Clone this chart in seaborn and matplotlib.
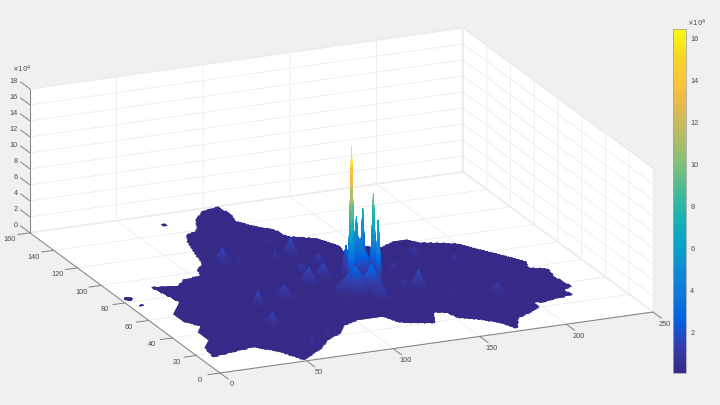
import numpy as np
import matplotlib
matplotlib.use("Agg")
import matplotlib.pyplot as plt
import matplotlib.tri as mtri
from matplotlib.path import Path
from matplotlib.ticker import NullFormatter
from mpl_toolkits.mplot3d import proj3d
import seaborn as sns

# outline of the region (x, y)
outline_x = [23, 36, 44, 54, 57, 63, 66, 70, 75, 80, 85, 89, 98, 108, 109, 107, 113, 120, 122, 135,
             141, 139, 151, 161, 170, 178, 183, 193, 200, 206, 213, 221, 218, 227, 225, 227, 221, 222,
             213, 203, 198, 198, 190, 180, 173, 169, 161, 151, 150, 143, 137, 130, 120, 116, 101, 90,
             85, 74, 64, 49, 43, 33, 25, 7, 9, 16, 16, 21, 16, 16, 27]
outline_y = [91, 88, 94, 95, 102, 106, 117, 129, 137, 138, 143, 150, 157, 159, 150, 143, 135, 130, 121, 115,
             105, 99, 102, 98, 102, 102, 97, 94, 91, 83, 75, 65, 59, 55, 47, 35, 33, 27,
             26, 24, 25, 20, 16, 12, 2, 10, 16, 21, 27, 29, 19, 21, 24, 32, 32, 28,
             22, 17, 9, 1, 12, 20, 19, 16, 26, 33, 41, 47, 54, 62, 73]

# small detached patches
island_x = [4, 6, 70]
island_y = [83, 75, 149]
island_r = [1.6, 0.7, 1.0]

# peaks, heights in units of 1e4
peak_x = [126, 140, 140, 138, 135, 131, 129, 132, 120, 128, 74, 112, 101, 102, 113, 120, 106, 81, 63, 57, 62, 77,
          112, 127, 153, 146, 152, 172, 108, 82, 107, 63, 186, 187, 164]
peak_y = [73, 75, 84, 68, 82, 77, 82, 75, 61, 59, 106, 104, 101, 74, 78, 92, 86, 64, 60, 39, 13, 22,
          60, 50, 56, 58, 75, 87, 116, 104, 48, 77, 74, 39, 42]
peak_h = [16.4, 9.9, 7.0, 7.4, 6.4, 5.5, 3.0, 4.5, 3.0, 3.2, 1.8, 2.1, 1.2, 1.9, 1.7, 1.2, 1.0, 1.5, 1.8, 1.6, 1.1, 0.9,
          1.5, 1.5, 2.1, 0.9, 0.9, 0.9, 0.7, 0.7, 0.6, 0.6, 1.0, 1.3, 0.6]
peak_r = [2.0, 1.9, 1.8, 1.9, 2.4, 4, 3, 11, 11, 9, 5, 5, 3, 6, 6, 5, 5, 6, 4, 5, 3, 3,
          6, 6, 5, 5, 4, 6, 4, 3, 3, 3, 3, 5, 3]

x_ticks = [0, 50, 100, 150, 200, 250]
y_ticks = [0, 20, 40, 60, 80, 100, 120, 140, 160]
z_ticks = [0, 2, 4, 6, 8, 10, 12, 14, 16, 18]
cbar_ticks = [2, 4, 6, 8, 10, 12, 14, 16]
z_floor = 0.05
z_top = 16.48

# parula, every few rows of the table
parula = [(0.2081, 0.1663, 0.5292), (0.2081, 0.2386, 0.6771), (0.0117, 0.3875, 0.8820), (0.0629, 0.4737, 0.8554),
          (0.0641, 0.5570, 0.8240), (0.0228, 0.6535, 0.7768), (0.1133, 0.7015, 0.6859), (0.3022, 0.7376, 0.5712),
          (0.5300, 0.7491, 0.4661), (0.7184, 0.7411, 0.3905), (0.8824, 0.7274, 0.3217), (0.9990, 0.7653, 0.2164),
          (0.9697, 0.8481, 0.1475), (0.9763, 0.9831, 0.0538)]

BG = "#f0f0f0"
AXIS = "#808080"
TEXT = "#4d4d4d"

sns.set_theme(style="white", rc={"grid.color": "#ececec", "grid.linewidth": 0.6,
                                 "font.family": ["Liberation Sans", "DejaVu Sans"]})
cmap = sns.blend_palette(parula, as_cmap=True)

# surface grid, finer around the tall spikes so the colour runs smoothly up them
xs = np.unique(np.r_[np.arange(1, 251, 1.0), np.arange(122, 144, 0.2)])
ys = np.unique(np.r_[np.arange(1, 161, 1.0), np.arange(62, 90, 0.2)])
X, Y = np.meshgrid(xs, ys)

Z = np.full(X.shape, z_floor)
for px_, py_, h, r in zip(peak_x, peak_y, peak_h, peak_r):
    d = np.hypot(X - px_, Y - py_)
    Z = np.maximum(Z, z_floor + h * np.clip(1 - d / r, 0, None) ** 1.5)

# keep only the cells inside the outline
cx = (X[:-1, :-1] + X[1:, 1:]) / 2
cy = (Y[:-1, :-1] + Y[1:, 1:]) / 2
region = Path(np.column_stack([outline_x, outline_y]))
inside = region.contains_points(np.column_stack([cx.ravel(), cy.ravel()])).reshape(cx.shape)
for ix, iy, ir in zip(island_x, island_y, island_r):
    inside |= np.hypot(cx - ix, cy - iy) <= ir

rows, cols = np.nonzero(inside)
n = X.shape[1]
a = rows * n + cols
b = a + 1
c = a + n
d = c + 1
triangles = np.r_[np.column_stack([a, b, d]), np.column_stack([a, d, c])]
tri = mtri.Triangulation(X.ravel(), Y.ravel(), triangles)

fig = plt.figure(figsize=(7.2, 4.05), dpi=100, facecolor=BG)
ax = fig.add_axes([0, 0, 1, 1], projection="3d", proj_type="ortho", facecolor="none")
ax.computed_zorder = False

surf = ax.plot_trisurf(tri, Z.ravel(), cmap=cmap, vmin=z_floor, vmax=z_top, shade=False,
                       linewidth=0.5, antialiased=True, zorder=2)

ax.view_init(elev=18.8, azim=-113.6)
ax.set_box_aspect((472.5, 474.7, 152))
ax.set_xlim(0, 250, view_margin=0)
ax.set_ylim(0, 160, view_margin=0)
ax.set_zlim(0, 18, view_margin=0)
ax.set_xticks(x_ticks)
ax.set_yticks(y_ticks)
ax.set_zticks(z_ticks)
surf.set_edgecolor("face")

for axis in (ax.xaxis, ax.yaxis, ax.zaxis):
    axis.set_pane_color("white")
    axis.pane.set_edgecolor("#ececec")
    axis.line.set_color((0, 0, 0, 0))
    axis.set_major_formatter(NullFormatter())
    axis._axinfo["tick"]["inward_factor"] = 0
    axis._axinfo["tick"]["outward_factor"] = 0
ax.tick_params(axis="both", color=(0, 0, 0, 0))
ax.tick_params(axis="z", color=(0, 0, 0, 0))

# axis lines and ticks in the MATLAB positions
line_kw = dict(color=AXIS, linewidth=0.7, zorder=3)
ax.plot([0, 250], [0, 0], [0, 0], **line_kw)
ax.plot([0, 0], [0, 160], [0, 0], **line_kw)
ax.plot([0, 0], [160, 160], [0, 18], **line_kw)
for t in x_ticks:
    ax.plot([t, t], [0, -7], [0, 0], **line_kw)
for t in y_ticks:
    ax.plot([0, -7], [t, t], [0, 0], **line_kw)
for t in z_ticks:
    ax.plot([0, 0], [160, 168], [t, t], **line_kw)

# move the axes so the box corners land where they are in the reference
fig.canvas.draw()
W, H = fig.canvas.get_width_height()
pos = ax.get_position()
l0, b0, s0 = pos.x0 * W, pos.y0 * H, pos.width * W
M = ax.get_proj()


def corner(x, y, z):
    u, v, _ = proj3d.proj_transform(x, y, z, M)
    return ax.transData.transform((u, v))


p0 = corner(0, 0, 0)
p1 = corner(250, 0, 0)
t0 = (p0 - [l0, b0]) / s0
t1 = (p1 - [l0, b0]) / s0
s = (653 - 220) / (t1[0] - t0[0])
left = 220 - s * t0[0]
bottom = (H - 373) - s * t0[1]
ax.set_position([left / W, bottom / H, s / W, s / H])
ax.apply_aspect()


# tick labels sit a fixed number of pixels from their projected tick
def tick_label(x, y, z, dx, dy, ha="center"):
    u, v = corner(x, y, z)
    return u + dx, v - dy, ha


text_kw = dict(color=TEXT, fontsize=5.3, va="center")
for t in x_ticks:
    u, v, ha = tick_label(t, 0, 0, 12, 12)
    fig.text(u / W, v / H, str(t), ha=ha, **text_kw)
for t in y_ticks:
    u, v, ha = tick_label(0, t, 0, -20, 7)
    fig.text(u / W, v / H, str(t), ha=ha, **text_kw)
for t in z_ticks:
    u, v, ha = tick_label(0, 160, t, -12, -7, ha="right")
    fig.text(u / W, v / H, str(t), ha=ha, **text_kw)
fig.text(12 / W, 1 - 69 / H, r"$\times 10^{4}$", color=TEXT, fontsize=5, ha="left", va="center",
         math_fontfamily="dejavusans")

# colour bar
cax = fig.add_axes([673 / W, 1 - 373 / H, 13 / W, 344.5 / H])
cb = fig.colorbar(surf, cax=cax, ticks=cbar_ticks)
cb.outline.set_edgecolor("#a6a6a6")
cb.outline.set_linewidth(0.6)
cax.tick_params(axis="y", direction="in", length=3, width=0.5, color="#555555",
                labelcolor=TEXT, labelsize=5.3, pad=3, right=True, left=False)
fig.text(687 / W, 1 - 23 / H, r"$\times 10^{4}$", color=TEXT, fontsize=5, ha="left", va="center",
         math_fontfamily="dejavusans")

fig.savefig("out.png", dpi=100, facecolor=fig.get_facecolor())
